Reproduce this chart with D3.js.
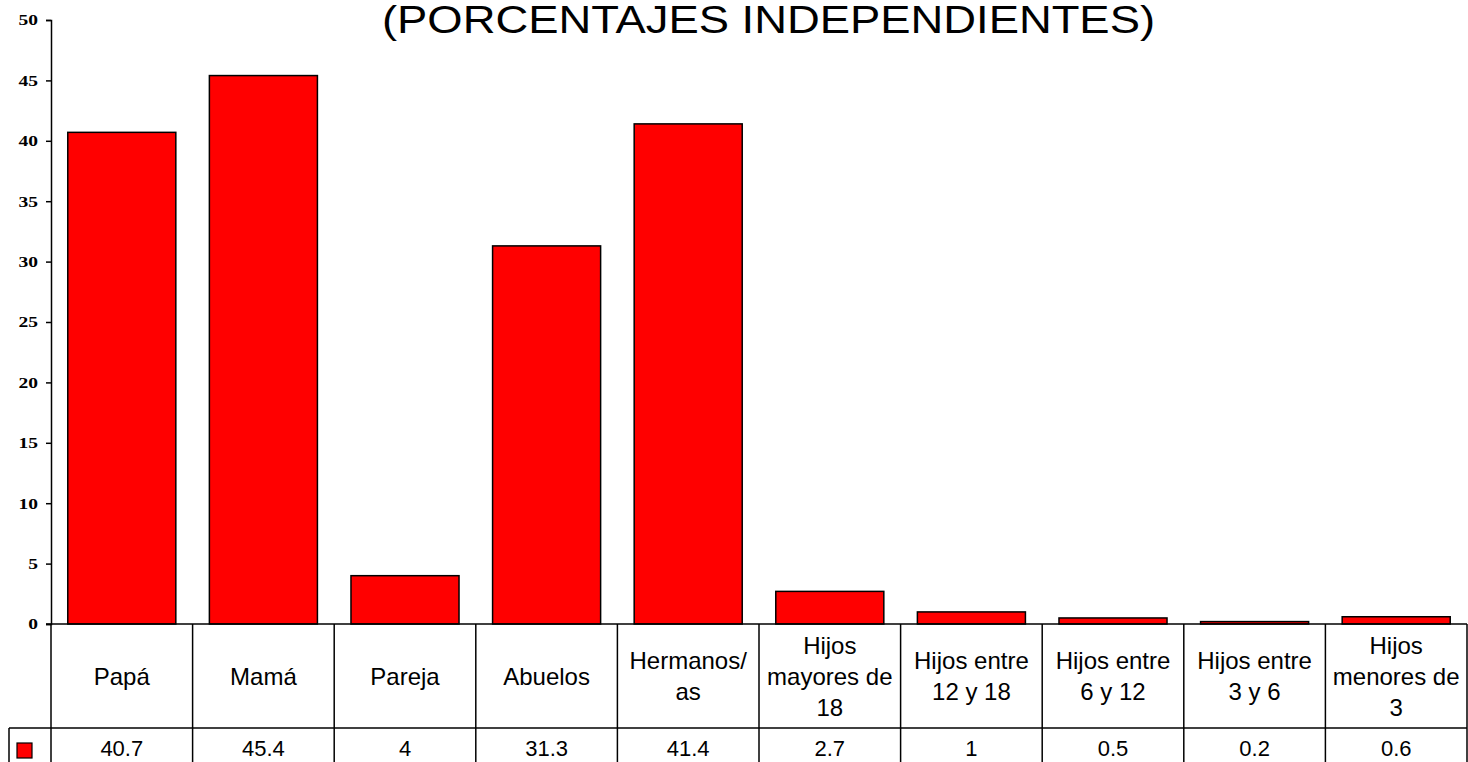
<!DOCTYPE html>
<html>
<head>
<meta charset="utf-8">
<script src="https://cdn.jsdelivr.net/npm/d3@7"></script>
<style>
  body { margin: 0; background: #fff; }
  svg { display: block; }
</style>
</head>
<body>
<div id="chart"></div>
<script>
// data
var categories = [
  ["Papá"],
  ["Mamá"],
  ["Pareja"],
  ["Abuelos"],
  ["Hermanos/", "as"],
  ["Hijos", "mayores de", "18"],
  ["Hijos entre", "12 y 18"],
  ["Hijos entre", "6 y 12"],
  ["Hijos entre", "3 y 6"],
  ["Hijos", "menores de", "3"]
];
var values = [40.7, 45.4, 4, 31.3, 41.4, 2.7, 1, 0.5, 0.2, 0.6];
var valueLabels = ["40.7", "45.4", "4", "31.3", "41.4", "2.7", "1", "0.5", "0.2", "0.6"];
var yTicks = [0, 5, 10, 15, 20, 25, 30, 35, 40, 45, 50];
var title = "(PORCENTAJES INDEPENDIENTES)";

// layout
var width = 1468, height = 762;
var plotLeft = 51, plotRight = 1467, plotTop = 20, plotBottom = 624;
var headerBottom = 728, legendLeft = 9;
var fontSans = "Arial, 'Liberation Sans', sans-serif";

var svg = d3.select("#chart").append("svg")
  .attr("width", width)
  .attr("height", height);

var x = d3.scaleBand()
  .domain(d3.range(categories.length))
  .range([plotLeft, plotRight])
  .paddingInner(0.237)
  .paddingOuter(0.1185);

var y = d3.scaleLinear()
  .domain([0, 50])
  .range([plotBottom, plotTop]);

var step = x.step();
var colLeft = function (i) { return plotLeft + i * step; };

// title (top line is cut off in the source)
svg.append("text")
  .attr("x", (382 + 1155) / 2)
  .attr("y", 33)
  .attr("text-anchor", "middle")
  .style("font-family", fontSans)
  .style("font-size", "38px")
  .attr("textLength", 773)
  .attr("lengthAdjust", "spacingAndGlyphs")
  .text(title);

// bars
svg.append("g")
  .selectAll("rect")
  .data(values)
  .enter()
  .append("rect")
  .attr("x", function (d, i) { return x(i); })
  .attr("y", function (d) { return y(d); })
  .attr("width", x.bandwidth())
  .attr("height", function (d) { return y(0) - y(d); })
  .style("fill", "#ff0000")
  .style("stroke", "#000")
  .style("stroke-width", 1.5);

// y axis
var yAxis = svg.append("g")
  .attr("transform", "translate(" + plotLeft + ",0)")
  .call(d3.axisLeft(y).tickValues(yTicks).tickSize(5).tickPadding(10));
yAxis.select(".domain").attr("stroke", "#000").attr("stroke-width", 1.5);
yAxis.selectAll(".tick line").attr("stroke", "#000").attr("stroke-width", 1.5);
yAxis.selectAll(".tick text")
  .attr("x", -13 / 1.3)
  .attr("transform", "scale(1.3,1)")
  .style("font-family", "'Times New Roman', 'Liberation Serif', serif")
  .style("font-weight", "bold")
  .style("font-size", "15px")
  .attr("fill", "#000");

// data table
var table = svg.append("g")
  .style("stroke", "#000")
  .style("stroke-width", 1.5);

table.append("line")
  .attr("x1", plotLeft - 5).attr("x2", plotRight)
  .attr("y1", plotBottom).attr("y2", plotBottom);
table.append("line")
  .attr("x1", legendLeft).attr("x2", plotRight)
  .attr("y1", headerBottom).attr("y2", headerBottom);
table.selectAll(".vline")
  .data(d3.range(categories.length + 1))
  .enter()
  .append("line")
  .attr("x1", function (i) { return colLeft(i); })
  .attr("x2", function (i) { return colLeft(i); })
  .attr("y1", plotBottom)
  .attr("y2", height);
table.append("line")
  .attr("x1", legendLeft).attr("x2", legendLeft)
  .attr("y1", headerBottom).attr("y2", height);

// category labels
var lineH = 31;
var headerMid = (plotBottom + headerBottom) / 2;
var headers = svg.append("g")
  .selectAll("text")
  .data(categories)
  .enter()
  .append("text")
  .attr("text-anchor", "middle")
  .style("font-family", fontSans)
  .style("font-size", "24px")
  .attr("fill", "#000");
headers.each(function (lines, i) {
  var cx = colLeft(i) + step / 2;
  var first = headerMid + 8.5 - (lines.length - 1) * lineH / 2;
  d3.select(this).selectAll("tspan")
    .data(lines)
    .enter()
    .append("tspan")
    .attr("x", cx)
    .attr("y", function (d, j) { return first + j * lineH; })
    .text(function (d) { return d; });
});

// value row
svg.append("g")
  .selectAll("text")
  .data(valueLabels)
  .enter()
  .append("text")
  .attr("x", function (d, i) { return colLeft(i) + step / 2; })
  .attr("y", 756)
  .attr("text-anchor", "middle")
  .style("font-family", fontSans)
  .style("font-size", "22px")
  .attr("fill", "#000")
  .text(function (d) { return d; });

// legend key
svg.append("rect")
  .attr("x", 17).attr("y", 743)
  .attr("width", 15).attr("height", 15)
  .style("fill", "#ff0000")
  .style("stroke", "#000")
  .style("stroke-width", 1.2);
</script>
</body>
</html>
